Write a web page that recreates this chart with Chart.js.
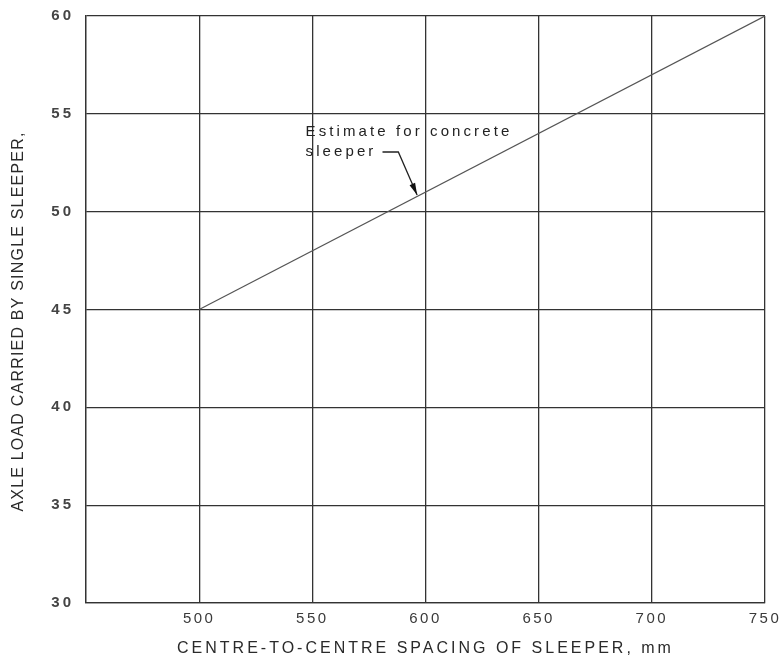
<!DOCTYPE html>
<html><head><meta charset="utf-8">
<script src="https://cdn.jsdelivr.net/npm/chart.js@4"></script>
<style>html,body{margin:0;padding:0;background:#fff}</style>
</head><body>
<canvas id="c" width="783" height="662"></canvas>
<script>
const spacing = [500, 750];
const axleLoad = [45, 60];
const xTicks = [450, 500, 550, 600, 650, 700, 750];
const yTicks = [30, 35, 40, 45, 50, 55, 60];
const xTitle = 'CENTRE-TO-CENTRE SPACING OF SLEEPER, mm';
const yTitle = 'AXLE LOAD CARRIED BY SINGLE SLEEPER,';
const noteLines = ['Estimate for concrete', 'sleeper'];
const noteAt = [547, 54.1];
const leaderX = [581, 588, 596.3];
const leaderY = [53.05, 53.05, 50.85];

const FONT = '"Liberation Sans", Arial, sans-serif';

function styleScale(s, tickSp, titleSp, titleShift) {
  s.paddingTop = 0; s.paddingBottom = 0; s.paddingLeft = 0; s.paddingRight = 0;
  if (s._styled) return;
  s._styled = true;
  const dl = s.drawLabels, dt = s.drawTitle;
  s.drawLabels = function (a) {
    this.ctx.save(); this.ctx.letterSpacing = tickSp; dl.call(this, a); this.ctx.restore();
  };
  s.drawTitle = function (a) {
    this.ctx.save(); this.ctx.letterSpacing = titleSp;
    this.ctx.translate(titleShift[0], titleShift[1]);
    dt.call(this, a); this.ctx.restore();
  };
}

const bgPlugin = {
  id: 'bg',
  beforeDraw(chart) {
    const c = chart.ctx;
    c.save(); c.fillStyle = '#fff'; c.fillRect(0, 0, chart.width, chart.height); c.restore();
  }
};

const notePlugin = {
  id: 'note',
  afterDatasetsDraw(chart) {
    const {ctx, scales: {x, y}} = chart;
    ctx.save();
    ctx.letterSpacing = '3.1px';
    ctx.font = '15px ' + FONT;
    ctx.fillStyle = '#222';
    ctx.textBaseline = 'middle';
    ctx.textAlign = 'left';
    const tx = x.getPixelForValue(noteAt[0]);
    const ty = y.getPixelForValue(noteAt[1]);
    noteLines.forEach((t, i) => ctx.fillText(t, tx, ty + i * 20));
    const pts = leaderX.map((v, i) => [x.getPixelForValue(v), y.getPixelForValue(leaderY[i])]);
    ctx.strokeStyle = '#222';
    ctx.lineWidth = 1.3;
    ctx.beginPath();
    ctx.moveTo(pts[0][0], pts[0][1]);
    ctx.lineTo(pts[1][0], pts[1][1]);
    ctx.lineTo(pts[2][0], pts[2][1]);
    ctx.stroke();
    const [ex, ey] = pts[2], [sx, sy] = pts[1];
    const ang = Math.atan2(ey - sy, ex - sx);
    const L = 12, W = 3;
    ctx.beginPath();
    ctx.moveTo(ex, ey);
    ctx.lineTo(ex - L * Math.cos(ang) + W * Math.sin(ang), ey - L * Math.sin(ang) - W * Math.cos(ang));
    ctx.lineTo(ex - L * Math.cos(ang) - W * Math.sin(ang), ey - L * Math.sin(ang) + W * Math.cos(ang));
    ctx.closePath();
    ctx.fillStyle = '#111';
    ctx.fill();
    ctx.restore();
  }
};

new Chart(document.getElementById('c'), {
  type: 'line',
  data: {
    datasets: [{
      data: spacing.map((v, i) => ({x: v, y: axleLoad[i]})),
      borderColor: '#555',
      borderWidth: 1.2,
      pointRadius: 0,
      fill: false,
      tension: 0
    }]
  },
  options: {
    responsive: false,
    animation: false,
    devicePixelRatio: 1,
    layout: {padding: {top: 16, right: 18, left: 0, bottom: 0}},
    plugins: {legend: {display: false}, tooltip: {enabled: false}},
    scales: {
      x: {
        type: 'linear',
        min: 450, max: 750,
        afterBuildTicks: s => { s.ticks = xTicks.map(v => ({value: v})); },
        afterFit: s => { s.height = 59; styleScale(s, '2.5px', '3px', [0, 0]); },
        ticks: {
          callback: v => (v === 450 ? '' : String(v)),
          font: {family: FONT, size: 15},
          color: '#3a3a3a',
          padding: 7,
          maxRotation: 0,
          autoSkip: false
        },
        grid: {color: '#333', lineWidth: 1.3, drawTicks: false, tickLength: 0},
        border: {display: true, color: '#333', width: 1.3},
        title: {display: true, text: xTitle, font: {family: FONT, size: 16}, color: '#2a2a2a', padding: {top: 0, bottom: 4}}
      },
      y: {
        type: 'linear',
        min: 30, max: 60,
        afterBuildTicks: s => { s.ticks = yTicks.map(v => ({value: v})); },
        afterFit: s => { s.width = 86; styleScale(s, '3px', '1.2px', [0, 12]); },
        ticks: {
          font: {family: FONT, size: 15, weight: 'bold'},
          color: '#444',
          padding: 12
        },
        grid: {color: '#333', lineWidth: 1.3, drawTicks: false, tickLength: 0},
        border: {display: true, color: '#333', width: 1.3},
        title: {display: true, text: yTitle, font: {family: FONT, size: 16}, color: '#2a2a2a', padding: {top: 9, bottom: 0}}
      }
    }
  },
  plugins: [bgPlugin, notePlugin]
});
</script>
</body></html>
